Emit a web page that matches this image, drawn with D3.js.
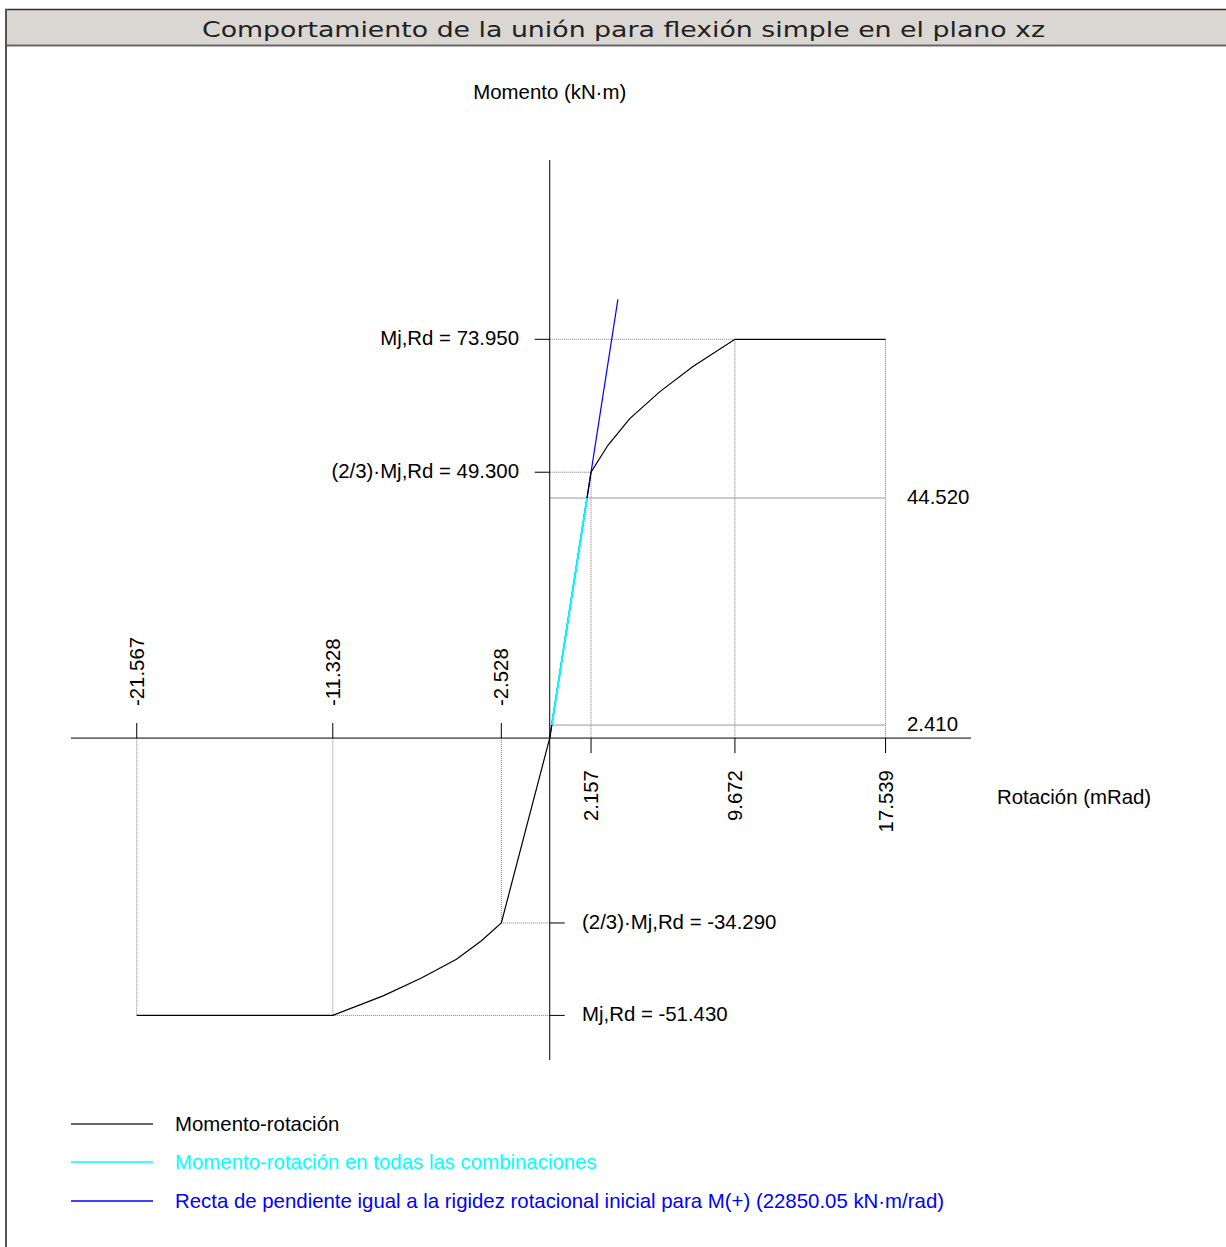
<!DOCTYPE html>
<html><head><meta charset="utf-8">
<script src="https://cdn.jsdelivr.net/npm/d3@7"></script>
<style>body{margin:0;background:#fff}svg{display:block}text{font-family:"Liberation Sans",Arial,sans-serif}</style>
</head><body>
<script>
// ---- data ----
const title = "Comportamiento de la unión para flexión simple en el plano xz";
const yAxisTitle = "Momento (kN·m)";
const xAxisTitle = "Rotación (mRad)";
const rotPos = [2.157, 9.672, 17.539];
const rotNeg = [-21.567, -11.328, -2.528];
const MjRdPos = 73.95, MjRd23Pos = 49.30;
const MjRdNeg = -51.43, MjRd23Neg = -34.29;
const combMoments = [2.41, 44.52];
const curveRot = [-21.567, -11.328, -8.70, -6.70, -4.87, -3.565, -2.528, 0, 2.157, 3.04, 4.18, 5.74, 7.48, 9.672, 17.539];
const curveMom = [-51.43, -51.43, -47.8, -44.5, -41.0, -37.57, -34.29, 0, 49.30, 54.3, 59.25, 64.2, 68.9, 73.95, 73.95];
const stiffness = 22.85005; // kN·m/mRad
const blueEndMom = 81.35;
const legendItems = ["Momento-rotación", "Momento-rotación en todas las combinaciones", "Recta de pendiente igual a la rigidez rotacional inicial para M(+) (22850.05 kN·m/rad)"];
const legendColors = ["#000000", "#00ffff", "#0000ff"];

const W = 1226, H = 1247;
const svg = d3.select("body").append("svg").attr("width", W).attr("height", H);

// frame + title bar
svg.append("rect").attr("x", 5).attr("y", 9.5).attr("width", W).attr("height", 36).attr("fill", "#dad7d2");
svg.append("line").attr("x1", 5).attr("x2", W).attr("y1", 9.5).attr("y2", 9.5).attr("stroke", "#333").attr("stroke-width", 1.5);
svg.append("line").attr("x1", 5).attr("x2", W).attr("y1", 45.5).attr("y2", 45.5).attr("stroke", "#666").attr("stroke-width", 2);
svg.append("line").attr("x1", 6).attr("x2", 6).attr("y1", 9).attr("y2", H).attr("stroke", "#555").attr("stroke-width", 2);
svg.append("text").attr("x", 202).attr("y", 37).attr("font-size", 21)
  .style("font-family", "'DejaVu Sans',sans-serif").attr("fill", "#222")
  .attr("textLength", 843).attr("lengthAdjust", "spacingAndGlyphs").text(title);

// scales
const x = d3.scaleLinear().domain([-25, 22]).range([71, 971]);
const y = d3.scaleLinear().domain([-59.7, 107.2]).range([1060, 160]);
const x0 = x(0), y0 = y(0);

const g = svg.append("g");
const gray = "#7a7a7a";
function ln(x1, y1, x2, y2, color, dash, w) {
  g.append("line").attr("x1", x1).attr("y1", y1).attr("x2", x2).attr("y2", y2)
    .attr("stroke", color).attr("stroke-width", w || 1).attr("stroke-dasharray", dash || null);
}
const dot = "1,1";

// reference lines (positive)
ln(x0, y(MjRdPos), x(rotPos[1]), y(MjRdPos), gray, dot);
ln(x0, y(MjRd23Pos), x(rotPos[0]), y(MjRd23Pos), gray, dot);
rotPos.forEach((r, i) => {
  const top = i === 0 ? y(MjRd23Pos) : y(MjRdPos);
  ln(x(r), top, x(r), y0, gray, dot);
});
combMoments.forEach(m => ln(x0, y(m), x(rotPos[2]), y(m), "#999"));
// reference lines (negative)
ln(x(rotNeg[1]), y(MjRdNeg), x0, y(MjRdNeg), gray, dot);
ln(x(rotNeg[2]), y(MjRd23Neg), x0, y(MjRd23Neg), gray, dot);
rotNeg.forEach((r, i) => {
  const bot = i === 2 ? y(MjRd23Neg) : y(MjRdNeg);
  ln(x(r), bot, x(r), y0, gray, dot);
});

// axes
ln(x(-25), y0, x(22), y0, "#000");
ln(x0, y(107.2), x0, y(-59.7), "#000");
const tick = 15;
rotPos.forEach(r => ln(x(r), y0, x(r), y0 + tick, "#000"));
rotNeg.forEach(r => ln(x(r), y0, x(r), y0 - tick, "#000"));
[MjRdPos, MjRd23Pos].forEach(m => ln(x0 - tick, y(m), x0, y(m), "#000"));
[MjRdNeg, MjRd23Neg].forEach(m => ln(x0, y(m), x0 + tick, y(m), "#000"));

// tick labels
const fs = 20.4;
rotPos.forEach(r => {
  g.append("text").attr("transform", `translate(${x(r) + 7},${y0 + 32}) rotate(-90)`)
    .attr("text-anchor", "end").attr("font-size", fs).text(r.toFixed(3));
});
rotNeg.forEach(r => {
  g.append("text").attr("transform", `translate(${x(r) + 7},${y0 - 32}) rotate(-90)`)
    .attr("text-anchor", "start").attr("font-size", fs).text(r.toFixed(3));
});
g.append("text").attr("x", 519).attr("y", y(MjRdPos) + 6).attr("text-anchor", "end").attr("font-size", fs).text("Mj,Rd = " + MjRdPos.toFixed(3));
g.append("text").attr("x", 519).attr("y", y(MjRd23Pos) + 6).attr("text-anchor", "end").attr("font-size", fs).text("(2/3)·Mj,Rd = " + MjRd23Pos.toFixed(3));
g.append("text").attr("x", 582).attr("y", y(MjRd23Neg) + 6).attr("font-size", fs).text("(2/3)·Mj,Rd = " + MjRd23Neg.toFixed(3));
g.append("text").attr("x", 582).attr("y", y(MjRdNeg) + 6).attr("font-size", fs).text("Mj,Rd = " + MjRdNeg.toFixed(3));
combMoments.forEach(m => g.append("text").attr("x", 907).attr("y", y(m) + 6).attr("font-size", fs).text(m.toFixed(3)));

g.append("text").attr("x", x0).attr("y", 99).attr("text-anchor", "middle").attr("font-size", fs).text(yAxisTitle);
g.append("text").attr("x", 997).attr("y", 804).attr("font-size", fs).text(xAxisTitle);

// curves (blue underneath, then black, then cyan)
const line = d3.line().x(d => x(d[0])).y(d => y(d[1]));
g.append("path").attr("d", line([[0, 0], [blueEndMom / stiffness, blueEndMom]]))
  .attr("fill", "none").attr("stroke", "#0000ff").attr("stroke-width", 1.2);
g.append("path").attr("d", line(curveRot.map((r, i) => [r, curveMom[i]])))
  .attr("fill", "none").attr("stroke", "#000").attr("stroke-width", 1.2);
g.append("path").attr("d", line(combMoments.map(m => [m / stiffness, m])))
  .attr("fill", "none").attr("stroke", "#00ffff").attr("stroke-width", 2);

// legend
const legY = [1124, 1162, 1201];
legendItems.forEach((t, i) => {
  ln(71, legY[i], 153, legY[i], legendColors[i] === "#000000" ? "#333" : legendColors[i], null, 1.3);
  g.append("text").attr("x", 175).attr("y", legY[i] + 7).attr("font-size", fs).attr("fill", legendColors[i]).text(t);
});
</script>
</body></html>
